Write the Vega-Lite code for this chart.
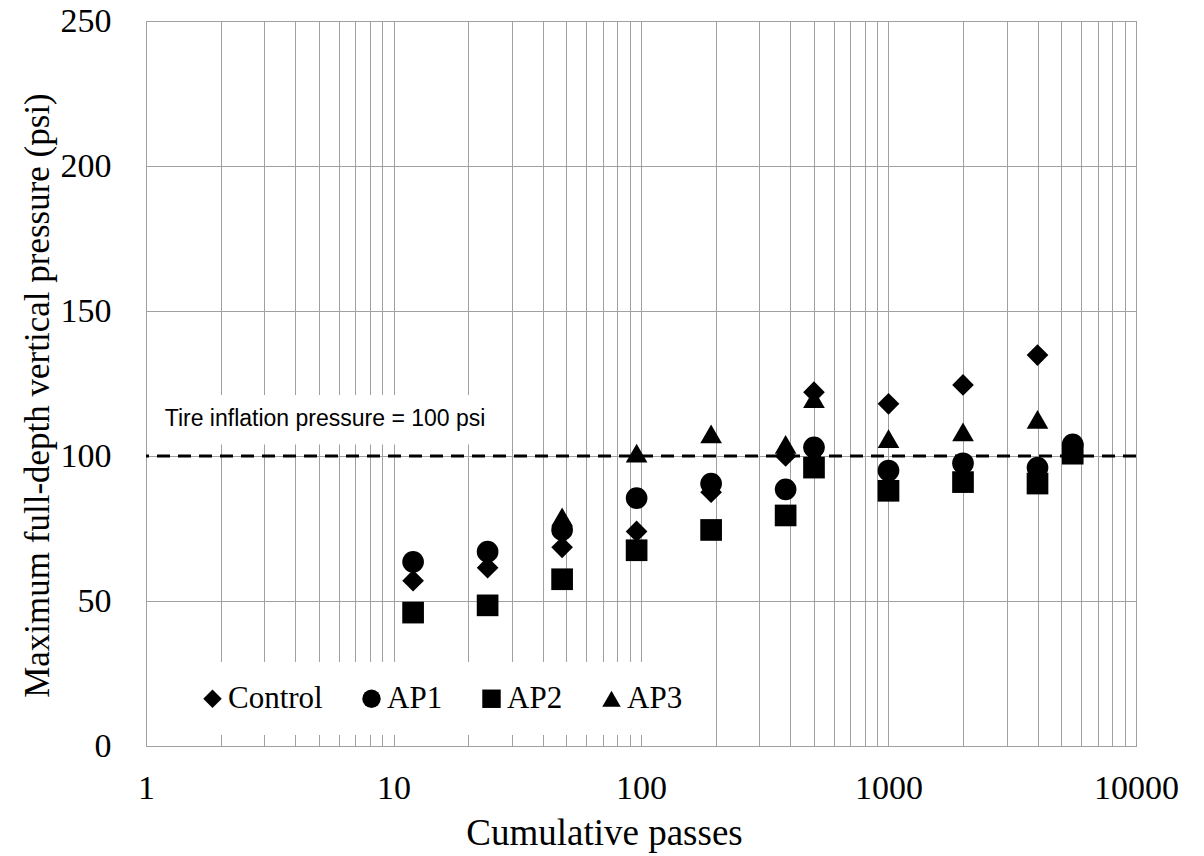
{
  "$schema": "https://vega.github.io/schema/vega-lite/v6.json",
  "width": 990,
  "height": 725,
  "autosize": "none",
  "padding": {"left": 146, "top": 21, "right": 68, "bottom": 110},
  "background": "white",
  "config": {
    "view": {"stroke": "#8c8c8c", "strokeWidth": 1},
    "axis": {
      "domain": false,
      "ticks": false,
      "grid": true,
      "gridColor": "#a0a0a0",
      "gridWidth": 1,
      "labelFont": "Liberation Serif",
      "labelColor": "black",
      "titleFont": "Liberation Serif",
      "titleFontWeight": "normal",
      "titleColor": "black"
    }
  },
  "datasets": {
    "points": [
      {"series": "Control", "passes": 12, "psi": 57},
      {"series": "Control", "passes": 24, "psi": 61.5},
      {"series": "Control", "passes": 48, "psi": 68.5},
      {"series": "Control", "passes": 96, "psi": 74},
      {"series": "Control", "passes": 192, "psi": 87.5},
      {"series": "Control", "passes": 384, "psi": 100},
      {"series": "Control", "passes": 500, "psi": 122},
      {"series": "Control", "passes": 1000, "psi": 118},
      {"series": "Control", "passes": 2000, "psi": 124.5},
      {"series": "Control", "passes": 4000, "psi": 134.8},
      {"series": "AP1", "passes": 12, "psi": 63.5},
      {"series": "AP1", "passes": 24, "psi": 67},
      {"series": "AP1", "passes": 48, "psi": 74.5},
      {"series": "AP1", "passes": 96, "psi": 85.5},
      {"series": "AP1", "passes": 192, "psi": 90.5},
      {"series": "AP1", "passes": 384, "psi": 88.5},
      {"series": "AP1", "passes": 500, "psi": 103},
      {"series": "AP1", "passes": 1000, "psi": 95},
      {"series": "AP1", "passes": 2000, "psi": 97.5},
      {"series": "AP1", "passes": 4000, "psi": 96},
      {"series": "AP1", "passes": 5550, "psi": 104},
      {"series": "AP2", "passes": 12, "psi": 46},
      {"series": "AP2", "passes": 24, "psi": 48.5},
      {"series": "AP2", "passes": 48, "psi": 57.5},
      {"series": "AP2", "passes": 96, "psi": 67.5},
      {"series": "AP2", "passes": 192, "psi": 74.5},
      {"series": "AP2", "passes": 384, "psi": 79.5},
      {"series": "AP2", "passes": 500, "psi": 96},
      {"series": "AP2", "passes": 1000, "psi": 88},
      {"series": "AP2", "passes": 2000, "psi": 91},
      {"series": "AP2", "passes": 4000, "psi": 90.5},
      {"series": "AP2", "passes": 5550, "psi": 100.8},
      {"series": "AP3", "passes": 48, "psi": 79},
      {"series": "AP3", "passes": 96, "psi": 101},
      {"series": "AP3", "passes": 192, "psi": 107.6},
      {"series": "AP3", "passes": 384, "psi": 104},
      {"series": "AP3", "passes": 500, "psi": 119.8},
      {"series": "AP3", "passes": 1000, "psi": 106},
      {"series": "AP3", "passes": 2000, "psi": 108.3},
      {"series": "AP3", "passes": 4000, "psi": 112.6}
    ],
    "reference": [{"psi": 100, "label": "Tire inflation pressure = 100 psi"}]
  },
  "layer": [
    {
      "data": {"name": "reference"},
      "mark": {"type": "rect", "fill": "white", "stroke": null},
      "encoding": {
        "x": {"datum": 1.01, "type": "quantitative", "scale": {"type": "log", "domain": [1, 10000]}},
        "x2": {"datum": 26},
        "y": {"datum": 104, "type": "quantitative"},
        "y2": {"datum": 121}
      }
    },
    {
      "data": {"name": "reference"},
      "mark": {"type": "rule", "color": "black", "strokeWidth": 3, "strokeDash": [13, 8]},
      "encoding": {
        "y": {"field": "psi", "type": "quantitative"}
      }
    },
    {
      "data": {"name": "reference"},
      "mark": {"type": "text", "align": "left", "baseline": "middle", "font": "Liberation Sans", "fontSize": 23, "color": "black"},
      "encoding": {
        "x": {"datum": 1.19, "type": "quantitative"},
        "y": {"datum": 112.8, "type": "quantitative"},
        "text": {"field": "label"}
      }
    },
    {
      "data": {"name": "points"},
      "mark": {"type": "point", "filled": true, "opacity": 1, "size": 470, "color": "black"},
      "encoding": {
        "x": {
          "field": "passes",
          "type": "quantitative",
          "scale": {"type": "log", "domain": [1, 10000], "nice": false},
          "axis": {
            "title": "Cumulative passes",
            "titleFontSize": 37,
            "titlePadding": 10,
            "titleX": 458,
            "titleAnchor": "start",
            "titleAlign": "center",
            "labelFontSize": 34,
            "labelPadding": 25,
            "format": "d",
            "labelOverlap": false,
            "labelFlush": false,
            "values": [1,2,3,4,5,6,7,8,9,10,20,30,40,50,60,70,80,90,100,200,300,400,500,600,700,800,900,1000,2000,3000,4000,5000,6000,7000,8000,9000,10000],
            "labelExpr": "indexof([1,10,100,1000,10000], datum.value) >= 0 ? datum.label : ''"
          }
        },
        "y": {
          "field": "psi",
          "type": "quantitative",
          "scale": {"domain": [0, 250], "nice": false, "zero": true},
          "axis": {
            "title": "Maximum full-depth vertical pressure (psi)",
            "titleFontSize": 35,
            "titlePadding": 5,
            "titleY": 374,
            "titleAnchor": "start",
            "titleAlign": "center",
            "labelFontSize": 34,
            "labelPadding": 35,
            "values": [0, 50, 100, 150, 200, 250]
          }
        },
        "shape": {
          "field": "series",
          "type": "nominal",
          "scale": {"domain": ["Control", "AP1", "AP2", "AP3"], "range": ["diamond", "circle", "square", "triangle-up"]},
          "legend": {
            "title": null,
            "orient": "none",
            "direction": "horizontal",
            "legendX": 30,
            "legendY": 641,
            "padding": 21,
            "fillColor": "white",
            "strokeColor": null,
            "labelFont": "Liberation Serif",
            "labelFontSize": 31,
            "labelColor": "black",
            "labelOffset": 0,
            "columnPadding": 33,
            "symbolSize": 340,
            "symbolFillColor": "black",
            "symbolStrokeColor": "black",
            "symbolOpacity": 1
          }
        }
      }
    }
  ]
}
